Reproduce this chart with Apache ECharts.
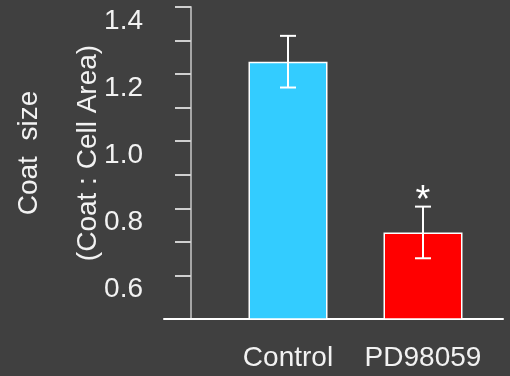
<!DOCTYPE html>
<html>
<head>
<meta charset="utf-8">
<script src="https://cdn.jsdelivr.net/npm/echarts@6/dist/echarts.min.js"></script>
<style>
html,body{margin:0;padding:0;background:#404040;}
#chart{width:510px;height:376px;}
</style>
</head>
<body>
<div id="chart"></div>
<script>
var categories = ['Control', 'PD98059'];
var means = [1.237, 0.728];
var errors = [0.077, 0.077];
var significance = ['', '*'];
var barColors = ['#33CCFF', '#FF0000'];
var tickValues = [0.6, 0.7, 0.8, 0.9, 1.0, 1.1, 1.2, 1.3, 1.4];
var labelValues = [0.6, 0.8, 1.0, 1.2, 1.4];
var yTitle = 'Coat  size\n(Coat : Cell Area)';

var FONT = '"Liberation Sans", Arial, sans-serif';
var chart = echarts.init(document.getElementById('chart'));

var barData = means.map(function (v, i) {
  return { value: v, itemStyle: { color: barColors[i] } };
});
var errData = means.map(function (v, i) {
  return [i, v - errors[i], v + errors[i], significance[i]];
});

chart.setOption({
  backgroundColor: '#404040',
  animation: false,
  grid: [
    { left: 220.5, right: 19.5, top: 7, bottom: 57, containLabel: false, outerBoundsMode: 'none' },
    { left: 164, right: 7, top: 7, bottom: 57, containLabel: false, outerBoundsMode: 'none' }
  ],
  xAxis: [
    {
      type: 'category', gridIndex: 0, data: categories,
      axisLine: { show: false }, axisTick: { show: false },
      axisLabel: { interval: 0, color: '#f2f2f2', fontSize: 28, fontFamily: FONT, margin: 25 }
    },
    {
      type: 'value', gridIndex: 1, min: 0, max: 1,
      axisLine: { show: true, lineStyle: { color: '#ffffff', width: 2 } },
      axisTick: { show: false }, axisLabel: { show: false }, splitLine: { show: false }
    }
  ],
  yAxis: [
    {
      type: 'value', gridIndex: 0, min: 0.47, max: 1.4, offset: 29.5,
      name: yTitle, nameLocation: 'middle', nameRotate: 90, nameGap: 73, nameMoveOverlap: false,
      nameTextStyle: { color: '#f2f2f2', fontSize: 28, fontFamily: FONT, lineHeight: 59, padding: [0, 0, 0, 20] },
      axisLine: { show: true, lineStyle: { color: '#a6a6a6', width: 2 } },
      axisTick: { show: true, customValues: tickValues, length: 16, lineStyle: { color: '#d0d0d0', width: 2 } },
      axisLabel: { customValues: labelValues, color: '#f2f2f2', fontSize: 28, fontFamily: FONT, margin: 48,
        verticalAlign: 'top', formatter: function (v) { return v.toFixed(1); } },
      splitLine: { show: false }
    },
    { type: 'value', gridIndex: 1, min: 0, max: 1, show: false }
  ],
  series: [
    {
      type: 'bar', xAxisIndex: 0, yAxisIndex: 0, data: barData, barWidth: 79,
      itemStyle: { borderColor: '#ffffff', borderWidth: 1.5 }
    },
    {
      type: 'custom', xAxisIndex: 0, yAxisIndex: 0, data: errData, z: 5,
      renderItem: function (params, api) {
        var i = api.value(0);
        var lo = api.coord([i, api.value(1)]);
        var hi = api.coord([i, api.value(2)]);
        var x = lo[0], w = 8;
        var style = { stroke: '#ffffff', lineWidth: 2 };
        var children = [
          { type: 'line', shape: { x1: x, y1: hi[1], x2: x, y2: lo[1] }, style: style },
          { type: 'line', shape: { x1: x - w, y1: hi[1], x2: x + w, y2: hi[1] }, style: style },
          { type: 'line', shape: { x1: x - w, y1: lo[1], x2: x + w, y2: lo[1] }, style: style }
        ];
        var s = significance[params.dataIndex];
        if (s) {
          children.push({ type: 'text', style: { text: s, x: x, y: hi[1] + 14, fill: '#ffffff',
            font: '38px ' + FONT, textAlign: 'center', textVerticalAlign: 'bottom' } });
        }
        return { type: 'group', children: children };
      }
    }
  ]
});
</script>
</body>
</html>
